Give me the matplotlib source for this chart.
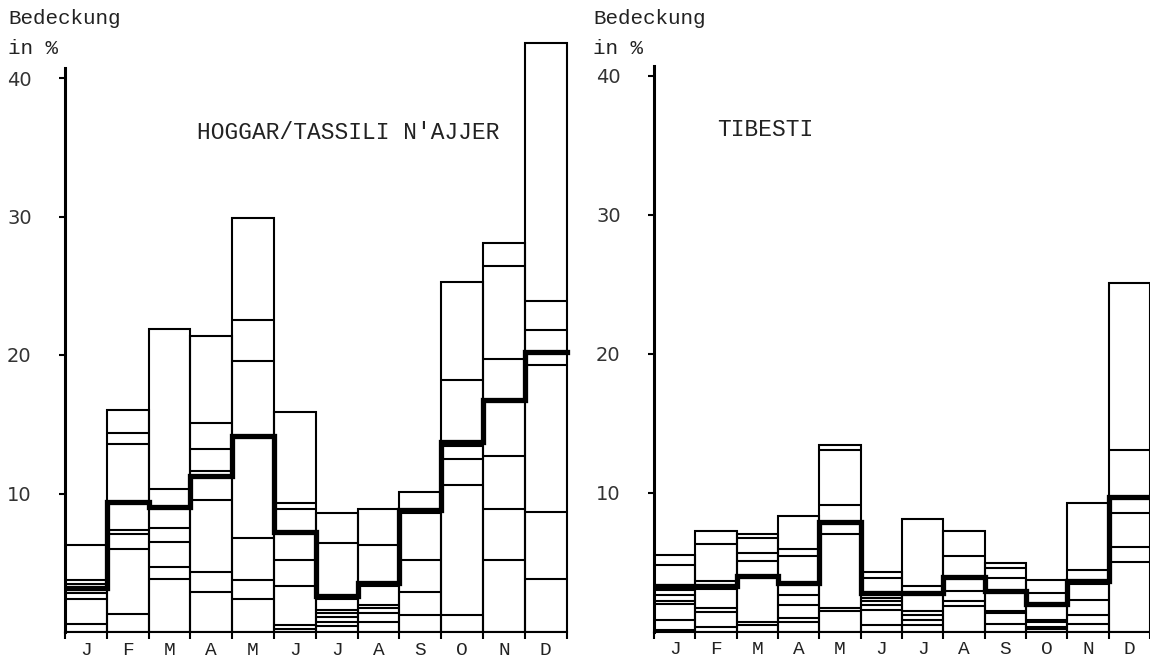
import numpy as np
import matplotlib.pyplot as plt

months = ["J", "F", "M", "A", "M", "J", "J", "A", "S", "O", "N", "D"]

# Hoggar / Tassili n'Ajjer: monthly maximum (box top), single years, mean
hoggar_max = [6.3, 16.0, 21.9, 21.4, 29.9, 15.9, 8.6, 8.85, 10.1, 25.3, 28.1, 42.5]
hoggar_years = [
    [3.75, 3.5, 2.8, 2.4, 0.6],
    [14.4, 13.6, 7.4, 7.05, 6.0, 1.3],
    [10.3, 7.5, 6.5, 4.7, 3.8],
    [15.1, 13.2, 11.65, 9.5, 4.35, 2.9],
    [22.5, 19.6, 6.8, 3.75, 2.4],
    [9.3, 8.9, 5.2, 3.3, 0.5, 0.2],
    [6.45, 2.35, 1.6, 1.35, 1.1, 0.75, 0.4],
    [6.3, 3.3, 1.95, 1.7, 1.35, 0.75],
    [8.6, 5.2, 2.9, 1.2],
    [18.2, 13.4, 12.5, 10.6, 1.2],
    [26.4, 19.7, 12.7, 8.85, 5.2],
    [23.9, 21.8, 19.3, 8.7, 3.8],
]
hoggar_mean = [3.2, 9.4, 9.05, 11.26, 14.15, 7.2, 2.6, 3.55, 8.8, 13.7, 16.75, 20.2]

# Tibesti
tibesti_max = [5.5, 7.2, 7.0, 8.3, 13.4, 4.3, 8.1, 7.2, 4.9, 3.7, 9.25, 25.1]
tibesti_years = [
    [4.8, 3.0, 2.65, 2.2, 2.0, 0.85, 0.1],
    [6.3, 3.6, 3.05, 1.7, 1.4, 0.3],
    [6.75, 5.65, 5.1, 0.65, 0.5],
    [5.95, 5.45, 2.65, 1.9, 0.95, 0.65],
    [13.05, 9.1, 7.0, 1.7, 1.45],
    [3.85, 2.4, 2.2, 1.9, 1.55, 0.5],
    [3.3, 1.45, 1.2, 0.85, 0.5],
    [5.4, 2.9, 2.2, 1.85],
    [4.6, 3.85, 1.5, 1.3, 0.55],
    [2.75, 0.85, 0.65, 0.35, 0.15],
    [4.45, 3.45, 2.3, 1.2, 0.55],
    [13.05, 8.55, 6.1, 5.0],
]
tibesti_mean = [3.3, 3.3, 4.0, 3.5, 7.9, 2.8, 2.75, 3.9, 2.9, 1.95, 3.65, 9.7]

W, H = 1150, 661
fig = plt.figure(figsize=(W / 100, H / 100), dpi=100)
mono = "Liberation Mono"
ink = "#222222"


def panel(ax, maxv, years, mean, title, title_x, xmax):
    x = np.arange(len(months))
    ax.bar(x, maxv, width=1, align="edge", fill=False, edgecolor="black", linewidth=1.5)
    for i, ys in enumerate(years):
        ax.hlines(ys, i, i + 1, color="black", linewidth=1.5)
    ax.step(np.arange(13), mean + [mean[-1]], where="post", color="black",
            linewidth=3.8, solid_joinstyle="miter")
    ax.set_xlim(0, xmax)
    ax.set_ylim(0, 44)
    for s in ["top", "right"]:
        ax.spines[s].set_visible(False)
    ax.spines["left"].set_linewidth(2.2)
    ax.spines["left"].set_bounds(0, 40.7)
    ax.spines["bottom"].set_linewidth(1.5)
    ax.spines["bottom"].set_bounds(0, 12)
    ax.set_yticks([10, 20, 30, 40])
    ax.set_yticklabels(["10", "20", "30", "40"], fontsize=14, color="#333333")
    ax.tick_params(axis="y", direction="out", length=4, width=1.5, pad=20)
    ax.set_xticks(np.arange(13))
    ax.set_xticklabels([])
    ax.tick_params(axis="x", which="major", direction="out", length=5, width=1.5)
    ax.set_xticks(x + 0.5, minor=True)
    ax.set_xticklabels(months, minor=True, fontsize=14, family=mono, color=ink)
    ax.tick_params(axis="x", which="minor", length=0, pad=7)
    ax.text(title_x, 36.1, title, fontsize=16.5, family=mono, ha="center",
            va="center", color=ink)
    ax.patch.set_alpha(0)


bw_l = 41.8
ax1 = fig.add_axes([65 / W, (H - 632) / H, 12.3 * bw_l / W, 44 * 13.85 / H])
panel(ax1, hoggar_max, hoggar_years, hoggar_mean, "HOGGAR/TASSILI N'AJJER", 6.77, 12.3)

bw_r = 41.7
ax2 = fig.add_axes([654 / W, (H - 631.5) / H, (W - 654) / W, 44 * 13.9 / H])
panel(ax2, tibesti_max, tibesti_years, tibesti_mean, "TIBESTI", 2.7, (W - 654) / bw_r)

for xl in [8, 593]:
    fig.text(xl / W, 1 - 18 / H, "Bedeckung", fontsize=15, family=mono, va="center", color=ink)
    fig.text(xl / W, 1 - 48 / H, "in %", fontsize=15, family=mono, va="center", color=ink)

fig.savefig("out.png", dpi=100)
